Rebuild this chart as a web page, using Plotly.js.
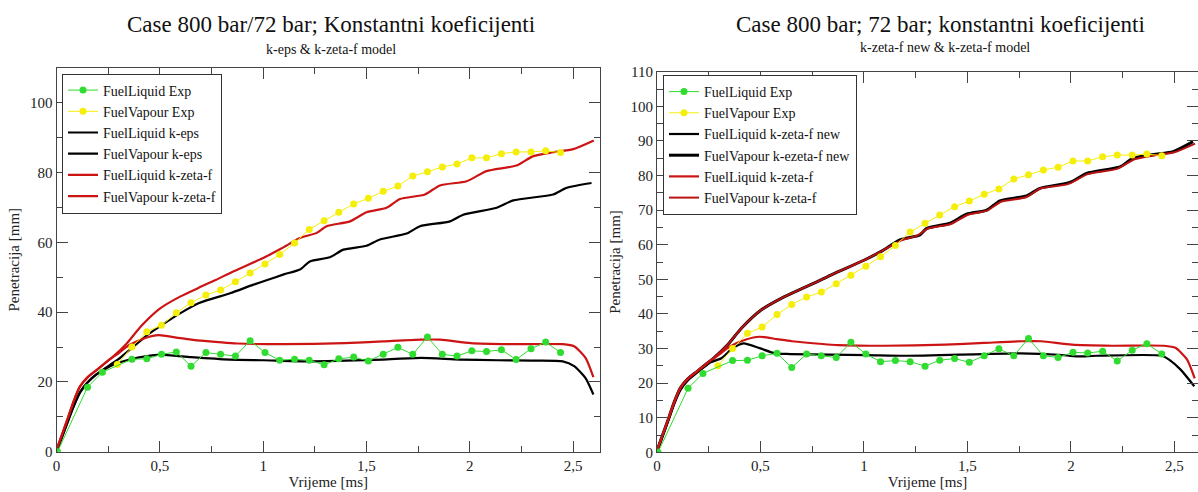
<!DOCTYPE html>
<html>
<head>
<meta charset="utf-8">
<script src="https://cdn.plot.ly/plotly-3.0.1.min.js"></script>
<style>html,body{margin:0;padding:0;background:#fff;}#chart{width:1198px;height:492px;}</style>
</head>
<body>
<div id="chart"></div>
<script>
// ---------- Experimental data (shared by both panels) ----------
const liqExpTime = [0.005, 0.15, 0.222, 0.365, 0.437, 0.508, 0.58, 0.651, 0.723, 0.794, 0.866, 0.937, 1.009, 1.08, 1.152, 1.223, 1.295, 1.366, 1.438, 1.509, 1.581, 1.652, 1.724, 1.795, 1.867, 1.938, 2.01, 2.081, 2.153, 2.224, 2.296, 2.367, 2.439];
const liqExp = [0, 18.5, 22.8, 26.5, 26.6, 27.9, 28.6, 24.5, 28.4, 27.9, 27.4, 31.8, 28.4, 26.2, 26.5, 26.2, 24.9, 26.6, 27.1, 26.0, 27.9, 29.9, 27.9, 32.9, 27.9, 27.4, 28.9, 28.7, 29.2, 26.4, 29.5, 31.4, 28.4];
const vapExpTime = [0.294, 0.365, 0.437, 0.508, 0.58, 0.651, 0.723, 0.794, 0.866, 0.937, 1.009, 1.08, 1.152, 1.223, 1.295, 1.366, 1.438, 1.509, 1.581, 1.652, 1.724, 1.795, 1.867, 1.938, 2.01, 2.081, 2.153, 2.224, 2.296, 2.367, 2.439];
const vapExp = [25.0, 30.0, 34.4, 36.2, 39.8, 42.7, 44.9, 46.3, 48.7, 51.2, 53.8, 56.5, 59.8, 63.7, 66.2, 68.6, 71.0, 72.6, 74.6, 76.1, 79.0, 80.2, 81.6, 82.4, 84.2, 84.2, 85.4, 85.9, 85.9, 86.2, 85.7];

// ---------- k-zeta-f (red) ----------
const kzfVapTime = [0, 0.03, 0.057, 0.085, 0.114, 0.15, 0.194, 0.235, 0.275, 0.34, 0.41, 0.5, 0.6, 0.7, 0.77, 0.85, 1.0, 1.09, 1.178, 1.259, 1.307, 1.42, 1.5, 1.597, 1.662, 1.783, 1.855, 1.985, 2.081, 2.226, 2.307, 2.403, 2.5, 2.6];
const kzfVap = [0.5, 5.5, 10.0, 14.8, 18.7, 21.3, 23.4, 25.4, 27.3, 31.0, 36.0, 41.0, 44.5, 47.3, 49.2, 51.5, 55.5, 58.3, 61.2, 62.7, 64.6, 66.0, 68.6, 69.9, 72.4, 73.7, 76.3, 77.5, 80.4, 82.0, 84.7, 85.8, 86.7, 89.2];
const kzfLiqTime = [0, 0.057, 0.085, 0.114, 0.15, 0.194, 0.259, 0.3, 0.35, 0.43, 0.495, 0.58, 0.652, 0.8, 0.875, 1.1, 1.394, 1.58, 1.764, 1.857, 2.005, 2.2, 2.45, 2.505, 2.56, 2.598];
const kzfLiq = [0.5, 10.0, 14.8, 18.7, 21.3, 23.4, 26.5, 28.2, 30.5, 32.6, 33.4, 32.7, 32.1, 31.3, 31.0, 30.8, 31.1, 31.6, 32.1, 32.1, 31.1, 30.8, 30.8, 30.2, 26.9, 21.4];

// ---------- k-eps (black, left panel) ----------
const kepsVapTime = [0, 0.057, 0.085, 0.114, 0.15, 0.19, 0.259, 0.3, 0.36, 0.43, 0.5, 0.6, 0.69, 0.84, 0.95, 1.02, 1.1, 1.178, 1.226, 1.323, 1.388, 1.5, 1.565, 1.694, 1.759, 1.904, 1.968, 2.13, 2.21, 2.403, 2.468, 2.589];
const kepsVap = [0, 9.0, 13.3, 17.0, 19.8, 22.0, 24.9, 26.5, 29.5, 33.0, 35.9, 39.7, 42.6, 45.4, 47.8, 49.2, 50.8, 52.2, 54.5, 55.7, 57.9, 59.0, 60.8, 62.5, 64.6, 66.0, 67.9, 69.9, 72.0, 73.7, 75.6, 77.0];
const kepsLiqTime = [0, 0.057, 0.085, 0.114, 0.15, 0.19, 0.259, 0.3, 0.36, 0.43, 0.5, 0.652, 0.838, 1.0, 1.208, 1.4, 1.579, 1.764, 1.95, 2.135, 2.3, 2.45, 2.505, 2.56, 2.598];
const kepsLiq = [0, 9.0, 13.3, 17.0, 19.8, 22.0, 24.5, 25.5, 26.5, 27.3, 27.8, 27.1, 26.4, 26.2, 25.9, 26.1, 26.4, 26.9, 26.4, 26.2, 26.1, 25.9, 24.5, 21.1, 16.4];

// ---------- k-zeta-f new (black, right panel) ----------
const newLiqTime = [0, 0.057, 0.085, 0.114, 0.15, 0.194, 0.259, 0.311, 0.366, 0.418, 0.496, 0.57, 0.644, 1.015, 1.2, 1.57, 1.755, 1.94, 2.03, 2.124, 2.44, 2.476, 2.53, 2.596];
const newLiq = [0, 9.5, 14.2, 18.0, 20.8, 23.0, 26.0, 27.2, 30.1, 31.5, 30.1, 28.6, 28.4, 28.1, 27.9, 28.4, 28.6, 28.2, 27.7, 27.9, 27.9, 26.7, 23.9, 19.1];
const newVapTime = [0, 0.03, 0.057, 0.085, 0.114, 0.15, 0.194, 0.235, 0.275, 0.34, 0.41, 0.5, 0.6, 0.7, 0.77, 0.85, 1.0, 1.09, 1.174, 1.27, 1.303, 1.415, 1.496, 1.593, 1.657, 1.786, 1.85, 1.995, 2.076, 2.237, 2.30, 2.40, 2.494, 2.59];
const newVap = [0.5, 5.5, 10.0, 14.8, 18.7, 21.3, 23.4, 25.4, 27.3, 31.0, 36.0, 41.0, 44.5, 47.3, 49.2, 51.5, 55.5, 58.3, 61.4, 62.8, 64.7, 66.2, 68.8, 70.0, 72.7, 74.1, 76.3, 78.0, 80.6, 82.5, 85.0, 86.1, 86.9, 89.8];

// ---------- text ----------
const leftTitle = 'Case 800 bar/72 bar; Konstantni koeficijenti';
const leftSub = 'k-eps &amp; k-zeta-f model';
const rightTitle = 'Case 800 bar; 72 bar; konstantni koeficijenti';
const rightSub = 'k-zeta-f new &amp; k-zeta-f model';
const leftNames = ['FuelLiquid Exp', 'FuelVapour Exp', 'FuelLiquid k-eps', 'FuelVapour k-eps', 'FuelLiquid k-zeta-f', 'FuelVapour k-zeta-f'];
const rightNames = ['FuelLiquid Exp', 'FuelVapour Exp', 'FuelLiquid k-zeta-f new', 'FuelVapour k-ezeta-f new', 'FuelLiquid k-zeta-f', 'FuelVapour k-zeta-f'];

const FONT = '"Liberation Serif", "Times New Roman", serif';
const GREEN = '#2fdc2f', YELLOW = '#f4ee0a', RED = '#cc1414', BLACK = '#000000';

function model(x, y, name, color, xa, ya, leg, rank, w) {
  return {x: x, y: y, name: name, type: 'scatter', mode: 'lines', xaxis: xa, yaxis: ya,
    legend: leg, legendrank: rank, line: {color: color, width: w || 2.2, shape: 'spline', smoothing: 0.6}};
}
function exp(x, y, name, color, xa, ya, leg, rank) {
  return {x: x, y: y, name: name, type: 'scatter', mode: 'lines+markers', xaxis: xa, yaxis: ya,
    legend: leg, legendrank: rank, line: {color: color, width: 1}, marker: {color: color, size: 7}};
}

const traces = [
  model(kepsVapTime, kepsVap, leftNames[3], BLACK, 'x', 'y', 'legend', 4),
  model(kepsLiqTime, kepsLiq, leftNames[2], BLACK, 'x', 'y', 'legend', 3),
  model(kzfVapTime, kzfVap, leftNames[5], RED, 'x', 'y', 'legend', 6),
  model(kzfLiqTime, kzfLiq, leftNames[4], RED, 'x', 'y', 'legend', 5),
  exp(vapExpTime, vapExp, leftNames[1], YELLOW, 'x', 'y', 'legend', 2),
  exp(liqExpTime, liqExp, leftNames[0], GREEN, 'x', 'y', 'legend', 1),
  model(newVapTime, newVap, rightNames[3], BLACK, 'x2', 'y2', 'legend2', 4, 3),
  model(newLiqTime, newLiq, rightNames[2], BLACK, 'x2', 'y2', 'legend2', 3),
  model(kzfVapTime, kzfVap, rightNames[5], '#b81212', 'x2', 'y2', 'legend2', 6, 2),
  model(kzfLiqTime, kzfLiq, rightNames[4], RED, 'x2', 'y2', 'legend2', 5),
  exp(vapExpTime, vapExp, rightNames[1], YELLOW, 'x2', 'y2', 'legend2', 2),
  exp(liqExpTime, liqExp, rightNames[0], GREEN, 'x2', 'y2', 'legend2', 1)
];

const W = 1198, H = 492;
const tickFont = {family: FONT, size: 15, color: '#222'};
const titleFont = {family: FONT, size: 15, color: '#222'};
function xax(d0, d1, rmax, anchor) {
  return {domain: [d0 / W, d1 / W], range: [0, rmax], anchor: anchor, dtick: 0.5, tick0: 0,
    ticks: 'inside', ticklen: 11, tickwidth: 1, tickcolor: '#444', showline: true, linecolor: '#444', linewidth: 1,
    mirror: 'ticks', showgrid: false, zeroline: false, tickfont: tickFont,
    minor: {dtick: 0.25, ticks: 'inside', ticklen: 6, tickcolor: '#444', showgrid: false},
    title: {text: 'Vrijeme [ms]', font: titleFont, standoff: 2}};
}
function yax(top, bottom, dt, mdt, anchor) {
  return {domain: [(H - bottom) / H, (H - top) / H], range: [0, 110], anchor: anchor, dtick: dt, tick0: 0,
    ticks: 'inside', ticklen: 11, tickwidth: 1, tickcolor: '#444', showline: true, linecolor: '#444', linewidth: 1,
    mirror: 'ticks', showgrid: false, zeroline: false, tickfont: tickFont,
    minor: {dtick: mdt, ticks: 'inside', ticklen: 6, tickcolor: '#444', showgrid: false},
    title: {text: 'Penetracija [mm]', font: titleFont, standoff: 6}};
}
function legendBox(x, y) {
  return {x: x / W, y: (H - y) / H, xanchor: 'left', yanchor: 'top', xref: 'paper', yref: 'paper',
    bgcolor: '#fff', bordercolor: '#333', borderwidth: 1, font: {family: FONT, size: 14, color: '#111'},
    tracegroupgap: 0, traceorder: 'normal'};
}
function ann(text, x, y, size) {
  return {text: text, x: x / W, y: (H - y) / H, xref: 'paper', yref: 'paper', xanchor: 'center', yanchor: 'middle',
    showarrow: false, font: {family: FONT, size: size, color: '#111'}};
}

const layout = {
  width: W, height: H, margin: {l: 0, r: 0, t: 0, b: 0}, paper_bgcolor: '#fff', plot_bgcolor: '#fff',
  separators: ',.', showlegend: true,
  xaxis: xax(56.5, 600, 2.63, 'y'),
  yaxis: yax(67.8, 451.7, 20, 10, 'x'),
  xaxis2: xax(657, 1198, 2.614, 'y2'),
  yaxis2: yax(71.7, 452.3, 10, 5, 'x2'),
  legend: legendBox(62, 73.5),
  legend2: legendBox(663, 75),
  annotations: [
    ann(leftTitle, 331, 24, 23),
    ann(leftSub, 331, 49, 14),
    ann(rightTitle, 940, 25, 23),
    ann(rightSub, 945, 48, 14)
  ]
};

Plotly.newPlot('chart', traces, layout, {displayModeBar: false, staticPlot: true});
</script>
</body>
</html>
